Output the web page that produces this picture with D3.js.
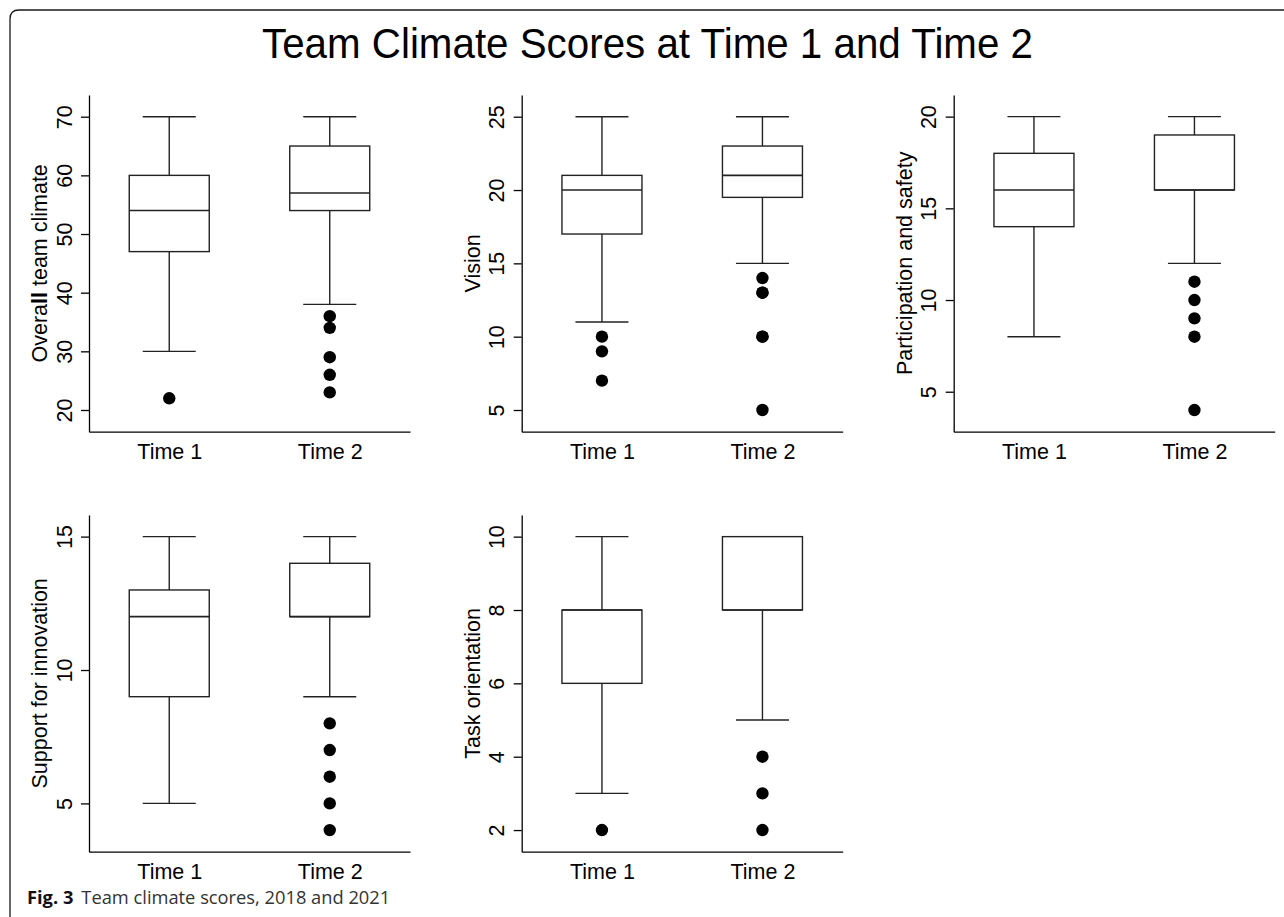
<!DOCTYPE html>
<html>
<head>
<meta charset="utf-8">
<script src="https://cdn.jsdelivr.net/npm/d3@7"></script>
<style>
  html, body { margin: 0; padding: 0; background: #fff; }
  svg { display: block; }
</style>
</head>
<body>
<svg id="chart" width="1284" height="917"></svg>
<script>
// ---------------- DATA ----------------
const chartTitle = "Team Climate Scores at Time 1 and Time 2";
const captionBold = "Fig. 3";
const captionText = "Team climate scores, 2018 and 2021";
const timeLabels = ["Time 1", "Time 2"];
const panelTitles = ["Overall team climate", "Vision", "Participation and safety", "Support for innovation", "Task orientation"];

const overallTicks = [20, 30, 40, 50, 60, 70];
const visionTicks = [5, 10, 15, 20, 25];
const participationTicks = [5, 10, 15, 20];
const innovationTicks = [5, 10, 15];
const taskTicks = [2, 4, 6, 8, 10];

const overallDomain = [16.3, 73.7];
const visionDomain = [3.52, 26.48];
const participationDomain = [2.82, 21.18];
const innovationDomain = [3.19, 15.81];
const taskDomain = [1.41, 10.59];

// [lower whisker, Q1, median, Q3, upper whisker] for Time 1, Time 2
const overallStats = [[30, 47, 54, 60, 70], [38, 54, 57, 65, 70]];
const visionStats = [[11, 17, 20, 21, 25], [15, 19.5, 21, 23, 25]];
const participationStats = [[8, 14, 16, 18, 20], [12, 16, 16, 19, 20]];
const innovationStats = [[5, 9, 12, 13, 15], [9, 12, 12, 14, 15]];
const taskStats = [[3, 6, 8, 8, 10], [5, 8, 8, 10, 10]];

const overallOutliers = [[22], [36, 34, 29, 26, 23]];
const visionOutliers = [[10, 9, 7], [14, 13, 13, 10, 10, 5]];
const participationOutliers = [[], [11, 10, 9, 8, 4]];
const innovationOutliers = [[], [8, 7, 6, 5, 4]];
const taskOutliers = [[2], [4, 3, 2]];

// ---------------- LAYOUT ----------------
const svg = d3.select("#chart");
const W = 1284, H = 917;
const axisFont = "'Liberation Sans', Arial, Helvetica, sans-serif";
const ink = "#000";
const boxInk = "#222";

const panels = [
  { title: panelTitles[0], ticks: overallTicks, domain: overallDomain, stats: overallStats, out: overallOutliers, col: 0, row: 0 },
  { title: panelTitles[1], ticks: visionTicks, domain: visionDomain, stats: visionStats, out: visionOutliers, col: 1, row: 0 },
  { title: panelTitles[2], ticks: participationTicks, domain: participationDomain, stats: participationStats, out: participationOutliers, col: 2, row: 0 },
  { title: panelTitles[3], ticks: innovationTicks, domain: innovationDomain, stats: innovationStats, out: innovationOutliers, col: 0, row: 1 },
  { title: panelTitles[4], ticks: taskTicks, domain: taskDomain, stats: taskStats, out: taskOutliers, col: 1, row: 1 }
];

const colX = [89, 521.7, 953.7];
const rowTop = [95, 515];
const plotH = 336.7;
const plotW = 321;
const boxW = 80;
const capW = 53;

// frame
svg.append("path")
  .attr("d", `M10,${H + 5} L10,19 Q10,10 19,10 L${W + 5},10`)
  .attr("fill", "none")
  .attr("stroke", "#1a1a1a")
  .attr("stroke-width", 1.3);

// title
svg.append("text")
  .attr("x", 647.5)
  .attr("y", 58)
  .attr("text-anchor", "middle")
  .attr("font-family", axisFont)
  .attr("font-size", 43)
  .attr("textLength", 771)
  .attr("lengthAdjust", "spacingAndGlyphs")
  .attr("fill", ink)
  .text(chartTitle);

panels.forEach(p => {
  const g = svg.append("g").attr("transform", `translate(${colX[p.col]},${rowTop[p.row]})`);
  const y = d3.scaleLinear().domain(p.domain).range([plotH, 0]);
  const x = d3.scalePoint().domain(timeLabels).range([0, plotW]).padding(0.5);

  // y axis
  const ya = g.append("g")
    .call(d3.axisLeft(y).tickValues(p.ticks).tickSize(8).tickSizeOuter(0).tickFormat(d3.format("d")));
  ya.select(".domain").attr("stroke", ink).attr("stroke-width", 1.3);
  ya.selectAll(".tick line").attr("stroke", ink).attr("stroke-width", 1.3);
  ya.selectAll(".tick text")
    .attr("x", null).attr("dy", null)
    .attr("transform", "translate(-17.5,0) rotate(-90)")
    .attr("text-anchor", "middle")
    .attr("font-family", axisFont)
    .attr("font-size", 21.5)
    .attr("fill", ink);

  // x axis
  const xa = g.append("g").attr("transform", `translate(0,${plotH})`)
    .call(d3.axisBottom(x).tickSize(0).tickSizeOuter(0));
  xa.select(".domain").attr("stroke", ink).attr("stroke-width", 1.3);
  xa.selectAll(".tick text")
    .attr("y", 27.3).attr("dy", null)
    .attr("font-family", axisFont)
    .attr("font-size", 21.5)
    .attr("fill", ink);

  // y label
  const lbl = g.append("text")
    .attr("transform", `translate(-42,${plotH / 2}) rotate(-90)`)
    .attr("text-anchor", "middle")
    .attr("font-family", axisFont)
    .attr("font-size", 21.5)
    .attr("fill", ink);
  if (p.title === "Overall team climate") {
    lbl.append("tspan").text("Overa");
    lbl.append("tspan").attr("font-weight", "bold").text("ll");
    lbl.append("tspan").text(" team climate");
  } else {
    lbl.text(p.title);
  }

  // boxes
  timeLabels.forEach((t, i) => {
    const s = p.stats[i];
    const cx = x(t);
    const bg = g.append("g").attr("stroke", boxInk).attr("stroke-width", 1.4).attr("fill", "none");
    // whiskers
    bg.append("line").attr("x1", cx).attr("x2", cx).attr("y1", y(s[0])).attr("y2", y(s[1]));
    bg.append("line").attr("x1", cx).attr("x2", cx).attr("y1", y(s[3])).attr("y2", y(s[4]));
    bg.append("line").attr("x1", cx - capW / 2).attr("x2", cx + capW / 2).attr("y1", y(s[0])).attr("y2", y(s[0]));
    bg.append("line").attr("x1", cx - capW / 2).attr("x2", cx + capW / 2).attr("y1", y(s[4])).attr("y2", y(s[4]));
    // box
    bg.append("rect")
      .attr("x", cx - boxW / 2).attr("width", boxW)
      .attr("y", y(s[3])).attr("height", y(s[1]) - y(s[3]))
      .attr("fill", "#fff");
    // median
    bg.append("line").attr("x1", cx - boxW / 2).attr("x2", cx + boxW / 2)
      .attr("y1", y(s[2])).attr("y2", y(s[2])).attr("stroke-width", 1.6);
    // outliers
    g.selectAll(null).data(p.out[i]).enter().append("circle")
      .attr("cx", cx).attr("cy", d => y(d)).attr("r", 6.2).attr("fill", "#000");
  });
});

// caption
const cap = svg.append("text")
  .attr("x", 27)
  .attr("y", 904)
  .attr("font-family", "'Open Sans', 'Noto Sans', sans-serif")
  .attr("font-size", 18.3)
  .attr("fill", "#111");
cap.append("tspan").attr("font-weight", "bold").text(captionBold);
cap.append("tspan").attr("dx", 8).attr("fill", "#333").text(captionText);
</script>
</body>
</html>
